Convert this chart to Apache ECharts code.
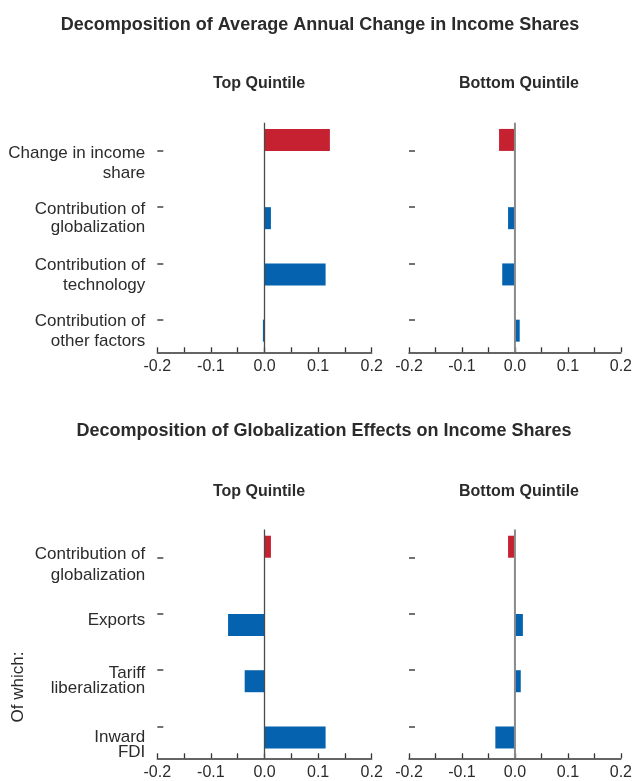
<!DOCTYPE html>
<html>
<head>
<meta charset="utf-8">
<title>Decomposition of income share changes</title>
<script src="https://cdn.jsdelivr.net/npm/echarts@6.0.0/dist/echarts.min.js"></script>
<style>
  html, body { margin: 0; padding: 0; background: #fff; }
  #main { width: 635px; height: 781px; }
</style>
</head>
<body>
<div id="main"></div>
<script>
// ---- data ----
var annualCats = ['Change in income\nshare', 'Contribution of\nglobalization', 'Contribution of\ntechnology', 'Contribution of\nother factors'];
var annualTopQ = [0.122, 0.012, 0.114, -0.003];
var annualBottomQ = [-0.030, -0.013, -0.024, 0.009];

var globCats = ['Contribution of\nglobalization', 'Exports', 'Tariff\nliberalization', 'Inward\nFDI'];
var globTopQ = [0.012, -0.068, -0.037, 0.114];
var globBottomQ = [-0.013, 0.015, 0.011, -0.037];

var xTicks = [-0.2, -0.1, 0.0, 0.1, 0.2];

var FONT = "'Liberation Sans', Arial, sans-serif";
var RED = '#c62131', BLUE = '#0562ae', TXT = '#2b2b2b';
var LABEL_SIZE = 17;

// label line spacing and push-down gap, per category
var annualLabelLayout = [
  {lh: 20, gap: 24},
  {lh: 18, gap: 23},
  {lh: 20, gap: 23},
  {lh: 20, gap: 24}
];
var globLabelLayout = [
  {lh: 21, gap: 14},
  {lh: 20, gap: 12},
  {lh: 15, gap: 21},
  {lh: 15, gap: 36}
];

var chart = echarts.init(document.getElementById('main'), null, {renderer: 'canvas'});

var panels = [
  {left: 157.3, top: 122.8, off: 4.5, cats: annualCats, vals: annualTopQ, lay: annualLabelLayout, showLab: true, zero: '#4a4a4a', zw: 1.3},
  {left: 409,   top: 122.8, off: 4.5, cats: annualCats, vals: annualBottomQ, lay: annualLabelLayout, showLab: false, zero: '#8a8a8a', zw: 2},
  {left: 157.3, top: 529.6, off: 3.7, cats: globCats, vals: globTopQ, lay: globLabelLayout, showLab: true, zero: '#4a4a4a', zw: 1.3},
  {left: 409,   top: 529.6, off: 3.7, cats: globCats, vals: globBottomQ, lay: globLabelLayout, showLab: false, zero: '#8a8a8a', zw: 2}
];
var GW = 214.4, GH = 225;

var grid = [], xAxis = [], yAxis = [], series = [];

panels.forEach(function(p, k){
  grid.push({left: p.left, top: p.top, width: GW, height: GH, containLabel: false});

  xAxis.push({
    type: 'value', gridIndex: k,
    min: xTicks[0], max: xTicks[xTicks.length - 1], interval: 0.1,
    offset: p.off,
    axisLine: {show: true, onZero: false, lineStyle: {color: '#333', width: 1.5}},
    axisTick: {show: true, inside: true, length: 5, lineStyle: {color: '#333', width: 1.3}},
    minorTick: {show: true, splitNumber: 2, length: 5, lineStyle: {color: '#333', width: 1.3}},
    splitLine: {show: false},
    axisLabel: {
      show: true, margin: 6, color: TXT, fontFamily: FONT, fontSize: 16,
      showMinLabel: true, showMaxLabel: true,
      formatter: function(v){ return (Math.abs(v) < 1e-9 ? 0 : v).toFixed(1); }
    }
  });

  // rich styles: a thin spacer line on top pushes each label down
  var rich = {};
  p.lay.forEach(function(l, i){
    rich['g' + i] = {fontSize: 1, lineHeight: l.gap};
    rich['t' + i] = {fontSize: LABEL_SIZE, lineHeight: l.lh, fontFamily: FONT, color: TXT};
  });

  yAxis.push({
    type: 'category', gridIndex: k, inverse: true,
    data: p.cats,
    axisLine: {show: false, onZero: false},
    axisTick: {show: true, inside: true, length: 6, alignWithLabel: true, lineStyle: {color: '#444', width: 1.5}},
    splitLine: {show: false},
    axisLabel: {
      show: p.showLab, interval: 0, margin: 12, color: TXT, fontFamily: FONT, fontSize: LABEL_SIZE,
      align: 'right', verticalAlign: 'middle', rich: rich,
      formatter: function(value, idx){
        var lines = value.split('\n').map(function(s){ return '{t' + idx + '|' + s + '}'; });
        return '{g' + idx + '| }\n' + lines.join('\n');
      }
    }
  });
  // hidden helper axis for the zero line
  yAxis.push({type: 'value', gridIndex: k, show: false, min: 0, max: 1});

  series.push({
    type: 'bar', xAxisIndex: k, yAxisIndex: 2 * k,
    barWidth: 22, barGap: '0%',
    itemStyle: {color: RED},
    data: p.vals.map(function(v, i){ return i === 0 ? v : '-'; })
  });
  series.push({
    type: 'bar', xAxisIndex: k, yAxisIndex: 2 * k,
    barWidth: 22, barGap: '0%',
    itemStyle: {color: BLUE},
    data: p.vals.map(function(v, i){ return i === 0 ? '-' : v; })
  });
  // zero line down to the axis
  series.push({
    type: 'line', xAxisIndex: k, yAxisIndex: 2 * k + 1,
    clip: false, symbol: 'none', silent: true,
    lineStyle: {color: p.zero, width: p.zw},
    data: [[0, -p.off / GH], [0, 1]]
  });
});

var titleStyle = {fontFamily: FONT, fontWeight: 'bold', color: TXT};

chart.setOption({
  animation: false,
  backgroundColor: '#fff',
  title: [
    {text: 'Decomposition of Average Annual Change in Income Shares', left: 320, top: 16, textAlign: 'center', padding: 0,
      textStyle: Object.assign({fontSize: 18}, titleStyle)},
    {text: 'Top Quintile', left: 259, top: 76, textAlign: 'center', padding: 0, textStyle: Object.assign({fontSize: 16}, titleStyle)},
    {text: 'Bottom Quintile', left: 519, top: 76, textAlign: 'center', padding: 0, textStyle: Object.assign({fontSize: 16}, titleStyle)},
    {text: 'Decomposition of Globalization Effects on Income Shares', left: 324, top: 422, textAlign: 'center', padding: 0,
      textStyle: Object.assign({fontSize: 18}, titleStyle)},
    {text: 'Top Quintile', left: 259, top: 484, textAlign: 'center', padding: 0, textStyle: Object.assign({fontSize: 16}, titleStyle)},
    {text: 'Bottom Quintile', left: 519, top: 484, textAlign: 'center', padding: 0, textStyle: Object.assign({fontSize: 16}, titleStyle)}
  ],
  graphic: [{
    type: 'text', x: 18, y: 687, rotation: Math.PI / 2,
    style: {text: 'Of which:', fontFamily: FONT, fontSize: 17, fill: TXT, align: 'center', verticalAlign: 'middle'}
  }],
  grid: grid,
  xAxis: xAxis,
  yAxis: yAxis,
  series: series
});
</script>
</body>
</html>
